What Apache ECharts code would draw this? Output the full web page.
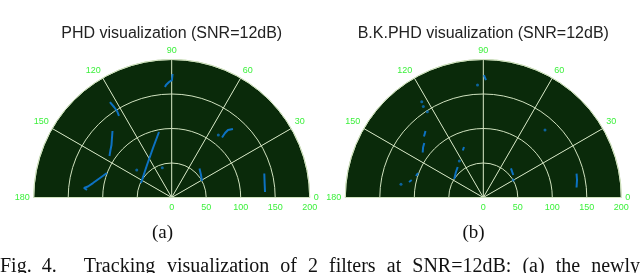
<!DOCTYPE html>
<html>
<head>
<meta charset="utf-8">
<script src="https://cdn.jsdelivr.net/npm/echarts@6/dist/echarts.min.js"></script>
<style>
html,body{margin:0;padding:0;background:#fff;}
#c{width:640px;height:273px;}
</style>
</head>
<body>
<div id="c"></div>
<script>
// ---- data: [radius, angle(deg)] ----
const angleTicks = [0, 30, 60, 90, 120, 150, 180];
const radiusTicks = [0, 50, 100, 150, 200];
const titles = ['PHD visualization (SNR=12dB)', 'B.K.PHD visualization (SNR=12dB)'];
const subLabels = ['(a)', '(b)'];
const captionWords = ['Fig.', '4.', 'Tracking', 'visualization', 'of', '2', 'filters', 'at', 'SNR=12dB:', '(a)', 'the', 'newly'];

// (a) PHD tracks
const phdT1 = [[179,89.6],[170,89.9],[167.4,91.3],[163.2,92.9],[160.4,93.5]];
const phdT2 = [[164.8,122.9],[155.5,122.5],[148.3,122.3],[140.7,122.9]];
const phdT3 = [[129,131.7],[122.2,135.1],[115.8,138.9],[112.3,142.2],[108.4,146.3]];
const phdT4 = [[100.3,159.3],[107.7,164.8],[116.0,169.6],[122.4,172.5],[127.9,173.8],[123.2,174.9]];
const phdT5 = [[96.7,101.0],[76.7,110.7],[59.2,127.2],[49.2,154.7]];
const phdT6 = [[133.2,48.2],[127.4,50.2],[121.3,50.4],[113.5,50.0]];
const phdT7 = [[58.2,46.2],[53.5,37.5],[50.0,28.6]];
const phdT8 = [[138.6,14.5],[136.3,8.9],[135.5,3.4]];
const phdDots = [[64.5,141.8],[45.3,107.5],[113,53.3]];

// (b) B.K.PHD track fragments
const bkSeg1 = [[177.5,89.7],[170.3,88.7]];
const bkSeg2 = [[127.7,131.0],[123.3,134.2]];
const bkSeg3 = [[116.4,137.3],[113.5,140.3],[109.4,143.4]];
const bkSeg4 = [[101.1,159.4],[102.4,162.3]];
const bkSeg5 = [[106.8,166.3],[110,168.2]];
const bkSeg6 = [[78.4,110.9],[74.3,113.6]];
const bkSeg7 = [[57.7,130],[54.2,137],[49.9,147.5]];
const bkSeg8 = [[58.3,46.5],[54.3,36.9]];
const bkSeg9 = [[139.5,14.4],[138.2,10.6],[135.9,6.1]];
const bkDots = [[163.3,92.95],[165.1,122.7],[158,123.4],[148.5,123.1],[120.8,170.9],[63.3,123.3],[132.6,47.6],[50.3,30.3]];

// ---- styles ----
const BG = '#0a2a0a';
const GRID = '#d0e2bf';
const LBL = '#3cf03c';
const TRACK = '#0d72c2';
const NONE = 'rgba(0,0,0,0)';

const angleBase = {
  type: 'value', min: angleTicks[0], max: angleTicks[angleTicks.length-1], interval: 30,
  startAngle: 0, endAngle: 180, clockwise: false
};
const radiusBase = {
  type: 'value', min: radiusTicks[0], max: radiusTicks[radiusTicks.length-1], interval: 50
};

function mkAngle(i){
  return Object.assign({}, angleBase, {
    polarIndex: i, z: 2,
    axisLine: {show: true, lineStyle: {color: GRID, width: 1}},
    axisTick: {show: false},
    axisLabel: {color: LBL, fontSize: 9, margin: 4, fontFamily: 'Liberation Sans'},
    splitLine: {show: true, lineStyle: {color: GRID, width: 1}},
    splitArea: {show: false}
  });
}
function mkRadius(i){
  return Object.assign({}, radiusBase, {
    polarIndex: i, z: 2,
    axisLine: {show: false}, axisTick: {show: false},
    axisLabel: {color: LBL, fontSize: 9, margin: -15, fontFamily: 'Liberation Sans'},
    splitLine: {show: true, lineStyle: {color: GRID, width: 1}}
  });
}
// background-only polar (dark green half disk), underneath
function mkAngleBg(i){
  return Object.assign({}, angleBase, {
    polarIndex: i, z: 0,
    axisLine: {show: false}, axisTick: {show: false}, axisLabel: {show: false},
    splitLine: {show: false},
    splitArea: {show: true, areaStyle: {color: [BG, BG, BG, BG, BG, BG, NONE]}}
  });
}
function mkRadiusBg(i){
  return Object.assign({}, radiusBase, {
    polarIndex: i, z: 0,
    axisLine: {show: false}, axisTick: {show: false}, axisLabel: {show: false},
    splitLine: {show: false}
  });
}
function line(pi, data){
  return {type: 'line', coordinateSystem: 'polar', polarIndex: pi, data: data, showSymbol: false,
    lineStyle: {color: TRACK, width: 2}, z: 5, silent: true};
}
function dots(pi, data){
  return {type: 'scatter', coordinateSystem: 'polar', polarIndex: pi, data: data, symbolSize: 3,
    itemStyle: {color: TRACK}, z: 5, silent: true};
}

const series = [
  line(0, phdT1), line(0, phdT2), line(0, phdT3), line(0, phdT4),
  line(0, phdT5), line(0, phdT6), line(0, phdT7), line(0, phdT8), dots(0, phdDots),
  line(1, bkSeg1), line(1, bkSeg2), line(1, bkSeg3), line(1, bkSeg4), line(1, bkSeg5),
  line(1, bkSeg6), line(1, bkSeg7), line(1, bkSeg8), line(1, bkSeg9), dots(1, bkDots)
];

const centers = [[171.7, 197.5], [483.3, 197.5]];
const graphic = [];
titles.forEach((t, i) => {
  graphic.push({type: 'text', x: centers[i][0], y: 33.5,
    style: {text: t, align: 'center', verticalAlign: 'middle', fill: '#222',
      font: '16px "Liberation Sans", Arial, sans-serif'}});
});
const subX = [162.5, 473.5];
subLabels.forEach((t, i) => {
  graphic.push({type: 'text', x: subX[i], y: 233,
    style: {text: t, align: 'center', verticalAlign: 'middle', fill: '#111',
      font: '19px "Liberation Serif", "Times New Roman", serif'}});
});
const captionX = [0, 41.7, 83.7, 167, 280.2, 308, 329, 386.8, 412.3, 522.4, 555.7, 591.2];
captionWords.forEach((w, i) => {
  graphic.push({type: 'text', x: captionX[i], y: 266.5,
    style: {text: w, align: 'left', verticalAlign: 'middle', fill: '#111',
      font: '20px "Liberation Serif", "Times New Roman", serif'}});
});

const chart = echarts.init(document.getElementById('c'), null, {renderer: 'canvas'});
chart.setOption({
  backgroundColor: '#ffffff',
  animation: false,
  polar: [
    {center: centers[0], radius: 138, z: 2},
    {center: centers[1], radius: 138, z: 2},
    {center: centers[0], radius: 138, z: 0},
    {center: centers[1], radius: 138, z: 0}
  ],
  angleAxis: [mkAngle(0), mkAngle(1), mkAngleBg(2), mkAngleBg(3)],
  radiusAxis: [mkRadius(0), mkRadius(1), mkRadiusBg(2), mkRadiusBg(3)],
  series: series,
  graphic: graphic
});
</script>
</body>
</html>
